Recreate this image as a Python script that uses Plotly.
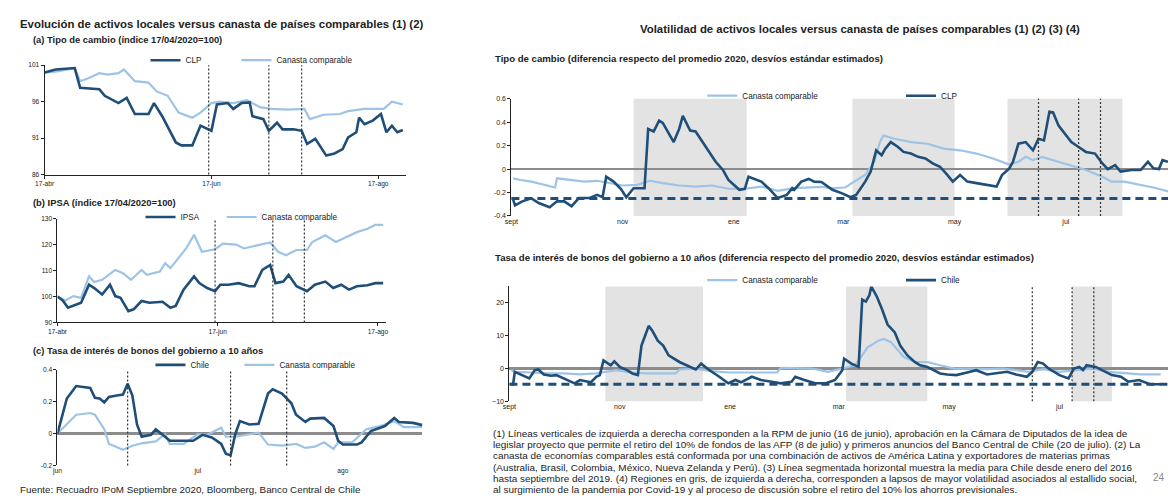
import plotly.graph_objects as go

DARK = "#1F4E79"
LIGHT = "#9DC3E6"
FONT = "Liberation Sans, Arial, sans-serif"

# ---------------- Panel (a) Tipo de cambio (indice 17/04/2020=100)
a_clp_x = ["2020-04-17","2020-04-21","2020-04-28","2020-04-30","2020-05-07","2020-05-09","2020-05-14","2020-05-17",
           "2020-05-20","2020-05-25","2020-05-27","2020-05-30","2020-06-04","2020-06-06","2020-06-10","2020-06-13",
           "2020-06-17","2020-06-19","2020-06-23","2020-06-25","2020-06-28","2020-07-01","2020-07-02","2020-07-06",
           "2020-07-08","2020-07-11","2020-07-13","2020-07-17","2020-07-20","2020-07-22","2020-07-25","2020-07-29",
           "2020-08-01","2020-08-04","2020-08-06","2020-08-09","2020-08-10","2020-08-12","2020-08-15","2020-08-18",
           "2020-08-20","2020-08-22","2020-08-24","2020-08-26"]
a_clp_y = [100.0,100.4,100.6,97.9,97.7,96.8,95.8,96.5,94.3,94.3,95.8,94.0,90.4,90.0,90.0,92.7,92.0,95.6,95.8,95.0,
           95.8,95.9,94.0,93.6,92.0,93.1,92.2,92.2,92.0,90.2,90.9,88.6,88.9,89.5,91.1,91.8,93.8,92.9,93.4,94.3,
           91.8,92.7,91.8,92.1]
a_can_x = ["2020-04-17","2020-04-21","2020-04-28","2020-04-30","2020-05-03","2020-05-07","2020-05-10","2020-05-14",
           "2020-05-16","2020-05-20","2020-05-25","2020-05-28","2020-06-01","2020-06-05","2020-06-10","2020-06-13",
           "2020-06-17","2020-06-20","2020-06-25","2020-06-30","2020-07-05","2020-07-09","2020-07-15","2020-07-21",
           "2020-07-23","2020-07-28","2020-08-03","2020-08-06","2020-08-12","2020-08-19","2020-08-22","2020-08-26"]
a_can_y = [100.0,100.1,100.6,98.8,99.2,99.9,99.7,99.9,100.4,98.8,98.6,97.4,96.8,94.5,93.8,94.5,95.8,96.0,95.8,96.2,
           95.2,95.0,94.9,95.0,93.6,94.2,94.3,94.7,95.0,95.0,96.0,95.6]

# ---------------- Panel (b) IPSA (indice 17/04/2020=100)
b_ipsa_x = ["2020-04-17","2020-04-19","2020-04-21","2020-04-24","2020-04-26","2020-04-29","2020-05-01","2020-05-04",
            "2020-05-07","2020-05-09","2020-05-11","2020-05-14","2020-05-16","2020-05-19","2020-05-22","2020-05-27",
            "2020-05-30","2020-06-01","2020-06-04","2020-06-08","2020-06-10","2020-06-13","2020-06-16","2020-06-18",
            "2020-06-21","2020-06-25","2020-06-29","2020-07-01","2020-07-04","2020-07-07","2020-07-09","2020-07-12",
            "2020-07-14","2020-07-17","2020-07-21","2020-07-24","2020-07-28","2020-07-31","2020-08-03","2020-08-06",
            "2020-08-09","2020-08-13","2020-08-16","2020-08-19"]
b_ipsa_y = [100.0,98.5,95.7,97.0,97.6,104.6,103.3,100.8,104.6,100.2,99.5,94.4,95.1,98.3,97.6,98.0,95.7,96.4,102.7,107.8,
            105.2,103.3,102.1,104.6,104.6,105.2,104.0,104.0,110.3,112.2,105.2,105.8,108.4,104.0,102.1,104.6,105.8,103.3,
            104.6,102.7,104.0,104.4,105.2,105.2]
b_can_x = ["2020-04-17","2020-04-20","2020-04-23","2020-04-26","2020-04-29","2020-05-01","2020-05-04","2020-05-09",
           "2020-05-12","2020-05-15","2020-05-19","2020-05-21","2020-05-26","2020-05-28","2020-05-30","2020-06-01",
           "2020-06-05","2020-06-08","2020-06-11","2020-06-16","2020-06-19","2020-06-24","2020-06-27","2020-07-02",
           "2020-07-07","2020-07-10","2020-07-13","2020-07-17","2020-07-21","2020-07-23","2020-07-28","2020-08-01",
           "2020-08-05","2020-08-09","2020-08-13","2020-08-16","2020-08-19"]
b_can_y = [100.0,98.5,100.2,99.5,107.8,105.6,106.5,110.3,109.0,106.5,110.3,108.4,109.7,112.9,111.0,113.5,118.6,123.9,
           117.3,118.3,120.5,120.1,118.6,119.8,120.9,117.3,116.0,118.0,118.0,121.1,123.7,121.1,123.0,124.9,126.2,127.7,127.7]

# ---------------- Panel (c) Tasa de interes de bonos del gobierno a 10 anos
c_chl_x = ["2020-06-01","2020-06-02","2020-06-03","2020-06-05","2020-06-08","2020-06-09","2020-06-10","2020-06-11",
           "2020-06-12","2020-06-14","2020-06-15","2020-06-16","2020-06-17","2020-06-18","2020-06-19","2020-06-21",
           "2020-06-22","2020-06-24","2020-06-25","2020-06-27","2020-06-30","2020-07-02","2020-07-04","2020-07-06",
           "2020-07-07","2020-07-08","2020-07-09","2020-07-10","2020-07-12","2020-07-14","2020-07-16","2020-07-17",
           "2020-07-19","2020-07-21","2020-07-22","2020-07-24","2020-07-25","2020-07-28","2020-07-30","2020-07-31",
           "2020-08-01","2020-08-04","2020-08-05","2020-08-07","2020-08-10","2020-08-12","2020-08-13","2020-08-16",
           "2020-08-18"]
c_chl_y = [0.0,0.118,0.22,0.298,0.286,0.224,0.22,0.196,0.23,0.24,0.245,0.312,0.24,0.057,-0.02,-0.008,0.027,-0.02,
           -0.045,-0.045,-0.045,-0.008,-0.024,-0.065,-0.127,-0.137,-0.004,0.078,0.057,0.061,0.251,0.278,0.251,0.19,
           0.118,0.073,0.094,0.098,0.047,-0.045,-0.069,-0.069,-0.055,0.016,0.047,0.098,0.073,0.067,0.053]
c_can_x = ["2020-06-01","2020-06-03","2020-06-05","2020-06-08","2020-06-09","2020-06-11","2020-06-12","2020-06-13",
           "2020-06-15","2020-06-17","2020-06-19","2020-06-22","2020-06-24","2020-06-25","2020-06-28","2020-07-01",
           "2020-07-03","2020-07-06","2020-07-07","2020-07-09","2020-07-11","2020-07-14","2020-07-16","2020-07-19",
           "2020-07-22","2020-07-24","2020-07-26","2020-07-28","2020-07-30","2020-07-31","2020-08-03","2020-08-06",
           "2020-08-09","2020-08-12","2020-08-14","2020-08-18"]
c_can_y = [0.0,0.057,0.118,0.129,0.118,0.027,-0.065,-0.076,-0.102,-0.076,-0.061,-0.049,-0.004,-0.065,-0.065,-0.004,
           -0.008,0.037,-0.02,-0.02,-0.008,0.006,-0.069,-0.076,-0.065,-0.09,-0.082,-0.055,-0.096,-0.055,-0.055,0.027,
           0.047,0.078,0.041,0.041]

# ---------------- Panel (d) Volatilidad tipo de cambio
d_clp_x = ["2019-09-02","2019-09-03","2019-09-07","2019-09-12","2019-09-16","2019-09-22","2019-09-26","2019-09-30",
           "2019-10-04","2019-10-08","2019-10-14","2019-10-18","2019-10-21","2019-10-23","2019-10-27","2019-10-31",
           "2019-11-03","2019-11-07","2019-11-11","2019-11-13","2019-11-15","2019-11-18","2019-11-21","2019-11-23",
           "2019-11-29","2019-12-02","2019-12-04","2019-12-08","2019-12-11","2019-12-15","2019-12-19","2019-12-22",
           "2019-12-26","2019-12-29","2020-01-04","2020-01-07","2020-01-09","2020-01-13","2020-01-16","2020-01-20",
           "2020-01-25","2020-01-30","2020-02-02","2020-02-03","2020-02-07","2020-02-11","2020-02-14","2020-02-18",
           "2020-02-24","2020-02-29","2020-03-05","2020-03-08","2020-03-13","2020-03-16","2020-03-19","2020-03-22",
           "2020-03-24","2020-03-27","2020-03-31","2020-04-03","2020-04-07","2020-04-11","2020-04-15","2020-04-19",
           "2020-04-23","2020-04-27","2020-04-30","2020-05-04","2020-05-08","2020-05-13","2020-05-18","2020-05-24",
           "2020-05-27","2020-05-31","2020-06-02","2020-06-05","2020-06-09","2020-06-13","2020-06-16","2020-06-19",
           "2020-06-22","2020-06-24","2020-06-27","2020-07-01","2020-07-04","2020-07-08","2020-07-12","2020-07-17",
           "2020-07-21","2020-07-24","2020-07-28","2020-07-31","2020-08-06","2020-08-11","2020-08-15","2020-08-18",
           "2020-08-21","2020-08-23","2020-08-26"]
d_clp_y = [-0.26,-0.31,-0.275,-0.25,-0.29,-0.325,-0.275,-0.275,-0.317,-0.247,-0.247,-0.22,-0.24,-0.065,-0.107,-0.168,
           -0.24,-0.163,-0.163,-0.163,0.342,0.32,0.412,0.393,0.23,0.342,0.454,0.328,0.32,0.23,0.132,0.062,-0.008,-0.093,
           -0.177,-0.168,-0.065,-0.093,-0.107,-0.163,-0.247,-0.22,-0.163,-0.177,-0.107,-0.084,-0.107,-0.11,-0.177,-0.205,
           -0.24,-0.22,-0.107,-0.022,0.16,0.118,0.174,0.23,0.188,0.146,0.132,0.104,0.09,0.048,0.02,-0.05,-0.107,-0.05,
           -0.107,-0.12,-0.135,-0.149,-0.05,0.006,0.062,0.216,0.23,0.16,0.258,0.244,0.488,0.482,0.37,0.286,0.23,0.188,
           0.146,0.132,0.048,0.0,0.034,-0.022,-0.008,-0.008,0.062,0.006,0.0,0.076,0.062]
d_can_x = ["2019-09-02","2019-09-06","2019-09-12","2019-09-19","2019-09-25","2019-09-26","2019-10-04","2019-10-11",
           "2019-10-18","2019-10-25","2019-11-01","2019-11-09","2019-11-16","2019-11-23","2019-12-02","2019-12-11",
           "2019-12-20","2019-12-29","2020-01-07","2020-01-16","2020-01-25","2020-02-03","2020-02-12","2020-02-18",
           "2020-02-24","2020-03-02","2020-03-07","2020-03-13","2020-03-18","2020-03-21","2020-03-23","2020-03-29",
           "2020-04-07","2020-04-16","2020-04-25","2020-05-04","2020-05-13","2020-05-22","2020-05-31","2020-06-05",
           "2020-06-09","2020-06-13","2020-06-18","2020-06-24","2020-07-03","2020-07-12","2020-07-21","2020-07-26",
           "2020-08-02","2020-08-11","2020-08-18","2020-08-26"]
d_can_y = [-0.079,-0.093,-0.107,-0.135,-0.157,-0.079,-0.093,-0.107,-0.1,-0.12,-0.14,-0.135,-0.1,-0.12,-0.14,-0.149,
           -0.14,-0.168,-0.168,-0.149,-0.185,-0.163,-0.157,-0.152,-0.163,-0.157,-0.107,-0.05,0.062,0.23,0.286,0.258,
           0.23,0.216,0.174,0.16,0.132,0.09,0.039,0.062,0.104,0.076,0.104,0.076,0.039,-0.008,-0.065,-0.107,-0.107,
           -0.135,-0.157,-0.19]
d_chile_mean = -0.25
d_gray = [("2019-11-07", "2020-01-08"), ("2020-03-06", "2020-05-01"), ("2020-05-30", "2020-08-01")]

# ---------------- Panel (e) Volatilidad tasa 10 anos
e_chl_x = ["2019-09-02","2019-09-03","2019-09-04","2019-09-07","2019-09-12","2019-09-15","2019-09-17","2019-09-20",
           "2019-09-24","2019-09-27","2019-10-03","2019-10-07","2019-10-10","2019-10-16","2019-10-19","2019-10-21",
           "2019-10-23","2019-10-27","2019-10-29","2019-11-01","2019-11-05","2019-11-08","2019-11-11","2019-11-13",
           "2019-11-15","2019-11-17","2019-11-19","2019-11-22","2019-11-25","2019-11-28","2019-12-04","2019-12-09",
           "2019-12-13","2019-12-16","2019-12-20","2019-12-26","2019-12-31","2020-01-04","2020-01-07","2020-01-13",
           "2020-01-18","2020-01-24","2020-01-29","2020-02-04","2020-02-06","2020-02-11","2020-02-17","2020-02-23",
           "2020-02-28","2020-03-03","2020-03-04","2020-03-08","2020-03-12","2020-03-14","2020-03-16","2020-03-18",
           "2020-03-19","2020-03-22","2020-03-25","2020-03-28","2020-04-01","2020-04-04","2020-04-08","2020-04-12",
           "2020-04-15","2020-04-19","2020-04-23","2020-04-26","2020-04-30","2020-05-05","2020-05-11","2020-05-16",
           "2020-05-22","2020-05-27","2020-06-02","2020-06-07","2020-06-13","2020-06-16","2020-06-19","2020-06-22",
           "2020-06-25","2020-07-01","2020-07-06","2020-07-09","2020-07-12","2020-07-14","2020-07-16","2020-07-21",
           "2020-07-25","2020-07-30","2020-08-04","2020-08-08","2020-08-14","2020-08-20","2020-08-26"]
e_chl_y = [-4.5,-5.0,-1.0,-1.8,-3.0,-0.5,-0.3,-1.8,-2.2,-2.0,-3.5,-4.5,-3.5,-4.2,-2.5,-2.0,2.5,1.0,2.2,0.5,-0.5,-1.5,
           -2.0,7.0,10.0,13.0,11.5,8.5,7.0,4.0,2.0,0.8,-0.3,1.5,-0.3,-2.5,-4.5,-3.5,-4.2,-2.5,-3.5,-4.0,-4.5,-4.0,-2.5,
           -3.5,-4.5,-4.5,-3.5,-0.5,3.0,1.5,0.5,21.0,20.4,22.4,25.0,22.0,18.0,13.4,11.0,7.0,4.0,2.0,1.0,0.5,-0.5,-1.5,
           -1.8,-2.0,-1.2,-0.5,-1.8,-1.5,-1.0,-1.8,-2.5,-1.0,2.0,1.5,0.0,-2.0,-3.0,0.0,0.5,-0.5,1.0,0.5,-0.5,-2.0,-2.5,
           -4.0,-3.5,-4.8,-4.8]
e_can_x = ["2019-09-02","2019-09-04","2019-09-13","2019-09-22","2019-10-01","2019-10-10","2019-10-19","2019-10-25",
           "2019-10-30","2019-11-07","2019-11-16","2019-11-25","2019-12-02","2019-12-04","2019-12-13","2019-12-22",
           "2019-12-31","2020-01-09","2020-01-18","2020-01-27","2020-01-29","2020-02-06","2020-02-15","2020-02-20",
           "2020-02-24","2020-03-03","2020-03-10","2020-03-14","2020-03-17","2020-03-23","2020-03-26","2020-03-30",
           "2020-04-03","2020-04-06","2020-04-12","2020-04-19","2020-04-26","2020-05-04","2020-05-13","2020-05-22",
           "2020-05-31","2020-06-07","2020-06-14","2020-06-22","2020-07-01","2020-07-10","2020-07-19","2020-07-28",
           "2020-08-06","2020-08-15","2020-08-26"]
e_can_y = [-0.5,-1.0,-1.2,-1.5,-1.5,-1.8,-1.5,-1.0,-0.5,-1.2,-1.5,-1.5,-1.5,-0.3,0.0,-0.8,-1.2,-1.2,-1.2,-1.2,0.2,0.2,
           0.0,-0.5,-1.0,0.0,1.0,4.0,6.5,8.5,9.0,8.0,5.5,3.5,2.0,2.0,1.0,0.0,0.0,-0.2,0.0,-0.5,-1.0,-0.2,-1.0,-0.5,0.0,
           -1.0,-1.5,-1.8,-1.8]
e_chile_mean = -4.8
e_gray = [("2019-10-24", "2019-12-17"), ("2020-03-05", "2020-04-19"), ("2020-07-08", "2020-07-30")]

# events (vertical lines): RPM junio, aprobacion idea de legislar, anuncios BCCh
vline_dates = ["2020-06-16", "2020-07-08", "2020-07-20"]

# tick labels
ab_tickvals = ["2020-04-17", "2020-06-17", "2020-08-17"]
ab_ticktext = ["17-abr", "17-jun", "17-ago"]
c_tickvals = ["2020-06-01", "2020-07-01", "2020-08-01"]
c_ticktext = ["jun", "jul", "ago"]
de_tickvals = ["2019-09-01", "2019-11-01", "2020-01-01", "2020-03-01", "2020-05-01", "2020-07-01"]
de_ticktext = ["sept", "nov", "ene", "mar", "may", "jul"]

W, H = 1171, 500


def px(x):
    return x / W


def py(y):
    return 1 - y / H


fig = go.Figure()

def add_line(x, y, name, color, width, ax, legend):
    fig.add_trace(go.Scatter(x=x, y=y, name=name, mode="lines",
                             line=dict(color=color, width=width),
                             xaxis="x" + ax, yaxis="y" + ax, legend=legend,
                             showlegend=True, hoverinfo="skip"))

add_line(a_can_x, a_can_y, "Canasta comparable", LIGHT, 2.2, "", "legend2")
add_line(a_clp_x, a_clp_y, "CLP", DARK, 2.6, "", "legend")
add_line(b_can_x, b_can_y, "Canasta comparable", LIGHT, 2.2, "2", "legend4")
add_line(b_ipsa_x, b_ipsa_y, "IPSA", DARK, 2.6, "2", "legend3")
add_line(c_can_x, c_can_y, "Canasta comparable", LIGHT, 2.2, "3", "legend6")
add_line(c_chl_x, c_chl_y, "Chile", DARK, 2.6, "3", "legend5")
add_line(d_can_x, d_can_y, "Canasta comparable", LIGHT, 2.2, "4", "legend7")
add_line(d_clp_x, d_clp_y, "CLP", DARK, 2.6, "4", "legend8")
add_line(e_can_x, e_can_y, "Canasta comparable", LIGHT, 2.2, "5", "legend9")
add_line(e_chl_x, e_chl_y, "Chile", DARK, 2.6, "5", "legend10")

tickfont_l = dict(family=FONT, size=6.6, color="#222")
tickfont_r = dict(family=FONT, size=7, color="#222")
axis_common = dict(showgrid=False, ticks="outside", ticklen=3, tickwidth=1, tickcolor="#222",
                   linecolor="#222", linewidth=1, fixedrange=True)

layout = dict(
    width=W, height=H, autosize=False, showlegend=True,
    margin=dict(l=0, r=0, t=0, b=0),
    paper_bgcolor="white", plot_bgcolor="rgba(0,0,0,0)",
    font=dict(family=FONT, color="#222"),
    # panel a
    xaxis=dict(axis_common, tickfont=tickfont_l, domain=[px(35), px(400)], anchor="y", type="date",
               range=["2020-04-17", "2020-08-27"], tickvals=ab_tickvals, ticktext=ab_ticktext, showline=True),
    yaxis=dict(axis_common, tickfont=tickfont_l, domain=[py(173), py(62)], anchor="x", range=[86, 101],
               tickvals=[86, 91, 96, 101], showline=True, zeroline=False),
    # panel b
    xaxis2=dict(axis_common, tickfont=tickfont_l, domain=[px(48), px(380)], anchor="y2", type="date",
                range=["2020-04-17", "2020-08-20"], tickvals=ab_tickvals, ticktext=ab_ticktext, showline=True),
    yaxis2=dict(axis_common, tickfont=tickfont_l, domain=[py(323), py(218)], anchor="x2", range=[90, 130],
                tickvals=[90, 100, 110, 120, 130], showline=True, zeroline=False),
    # panel c
    xaxis3=dict(axis_common, tickfont=tickfont_l, domain=[px(48), px(417)], anchor="y3", type="date",
                range=["2020-06-01", "2020-08-18"], tickvals=c_tickvals, ticktext=c_ticktext,
                showline=False, ticks=""),
    yaxis3=dict(axis_common, tickfont=tickfont_l, domain=[py(468), py(371)], anchor="x3", range=[-0.2, 0.4],
                tickvals=[-0.2, 0, 0.2, 0.4], ticktext=["-0.2", "0", "0.2", "0.4"], showline=True,
                zeroline=True, zerolinecolor="#8c8c8c", zerolinewidth=2.5),
    # panel d
    xaxis4=dict(axis_common, tickfont=tickfont_r, domain=[px(507), 1.0], anchor="y4", type="date",
                range=["2019-09-01", "2020-08-26"], tickvals=de_tickvals, ticktext=de_ticktext,
                showline=False, ticks=""),
    yaxis4=dict(axis_common, tickfont=tickfont_r, domain=[py(215), py(96)], anchor="x4", range=[-0.4, 0.6],
                tickvals=[-0.4, -0.2, 0, 0.2, 0.4, 0.6], ticktext=["-0.4", "-0.2", "0", "0.2", "0.4", "0.6"],
                showline=True, zeroline=True, zerolinecolor="#8c8c8c", zerolinewidth=2.5),
    # panel e
    xaxis5=dict(axis_common, tickfont=tickfont_r, domain=[px(505), 1.0], anchor="y5", type="date",
                range=["2019-09-01", "2020-08-30"], tickvals=de_tickvals, ticktext=de_ticktext,
                showline=False, ticks=""),
    yaxis5=dict(axis_common, tickfont=tickfont_r, domain=[py(403), py(286.5)], anchor="x5", range=[-10, 25],
                tickvals=[-10, 0, 10, 20], showline=True,
                zeroline=True, zerolinecolor="#8c8c8c", zerolinewidth=2.5),
)

legfont = dict(family=FONT, size=8.2, color="#222")
def leg(line_start, y):
    return dict(x=px(line_start - 8), y=py(y), xanchor="left", yanchor="middle", orientation="h",
                font=legfont, bgcolor="rgba(0,0,0,0)", itemwidth=30, visible=True,
                itemclick=False, itemdoubleclick=False)

layout["legend"] = leg(145, 57)
layout["legend2"] = leg(237, 57)
layout["legend3"] = leg(140, 216)
layout["legend4"] = leg(222, 216)
layout["legend5"] = leg(150, 366)
layout["legend6"] = leg(240, 366)
layout["legend7"] = leg(708, 93)
layout["legend8"] = leg(909, 93)
layout["legend9"] = leg(708, 280)
layout["legend10"] = leg(909, 280)

fig.update_layout(**layout)

# gray regions
for (x0, x1) in d_gray:
    fig.add_shape(type="rect", xref="x4", yref="y4 domain", x0=x0, x1=x1, y0=0, y1=1,
                  fillcolor="#E3E3E3", line=dict(width=0), layer="below")
for (x0, x1) in e_gray:
    fig.add_shape(type="rect", xref="x5", yref="y5 domain", x0=x0, x1=x1, y0=0, y1=1,
                  fillcolor="#E3E3E3", line=dict(width=0), layer="below")

# event lines
for ax in ["", "2", "3", "4", "5"]:
    for d in vline_dates:
        fig.add_shape(type="line", xref="x" + ax, yref=("y" + ax) + " domain", x0=d, x1=d, y0=0, y1=1,
                      line=dict(color="#333", width=1.2, dash="2px,2px"), layer="above")

# Chile historical mean lines
fig.add_shape(type="line", xref="x4 domain", yref="y4", x0=0, x1=1, y0=d_chile_mean, y1=d_chile_mean,
              line=dict(color=DARK, width=3, dash="8px,5px"), layer="above")
fig.add_shape(type="line", xref="x5 domain", yref="y5", x0=0, x1=1, y0=e_chile_mean, y1=e_chile_mean,
              line=dict(color=DARK, width=3, dash="8px,5px"), layer="above")

def text(x, y, s, size, bold=False, color="#222", xanchor="left"):
    fig.add_annotation(x=px(x), y=py(y), xref="paper", yref="paper", text=("<b>%s</b>" % s) if bold else s,
                       showarrow=False, xanchor=xanchor, yanchor="middle",
                       font=dict(family=FONT, size=size, color=color))

text(8, 20, "Evolución de activos locales versus canasta de países comparables (1) (2)", 11.4, True)
text(21, 36, "(a) Tipo de cambio (índice 17/04/2020=100)", 9.4, True)
text(21, 201, "(b) IPSA (índice 17/04/2020=100)", 9.4, True)
text(21, 351, "(c) Tasa de interés de bonos del gobierno a 10 años", 9.4, True)
text(8, 492, "Fuente: Recuadro IPoM Septiembre 2020, Bloomberg, Banco Central de Chile", 9.8)

text(635, 25, "Volatilidad de activos locales versus canasta de países comparables (1) (2) (3) (4)", 11.4, True)
text(488, 55, "Tipo de cambio (diferencia respecto del promedio 2020, desvíos estándar estimados)", 9.6, True)
text(488, 257, "Tasa de interés de bonos del gobierno a 10 años (diferencia respecto del promedio 2020, desvíos estándar estimados)", 9.6, True)

foot = [
    "(1) Líneas verticales de izquierda a derecha corresponden a la RPM de junio (16 de junio), aprobación en la Cámara de Diputados de la idea de",
    "legislar proyecto que permite el retiro del 10% de fondos de las AFP (8 de julio) y primeros anuncios del Banco Central de Chile (20 de julio). (2) La",
    "canasta de economías comparables está conformada por una combinación de activos de América Latina y exportadores de materias primas",
    "(Australia, Brasil, Colombia, México, Nueva Zelanda y Perú). (3) Línea segmentada horizontal muestra la media para Chile desde enero del 2016",
    "hasta septiembre del 2019. (4) Regiones en gris, de izquierda a derecha, corresponden a lapsos de mayor volatilidad asociados al estallido social,",
    "al surgimiento de la pandemia por Covid-19 y al proceso de discusión sobre el retiro del 10% los ahorros previsionales.",
]
for i, line in enumerate(foot):
    text(486, 436 + i * 11.2, line, 9.95)
text(1162, 480, "24", 10, color="#888", xanchor="center")

fig.write_html("out.html", config={"displayModeBar": False, "staticPlot": True},
               post_script="document.body.style.margin='0';document.body.style.overflow='hidden';")
